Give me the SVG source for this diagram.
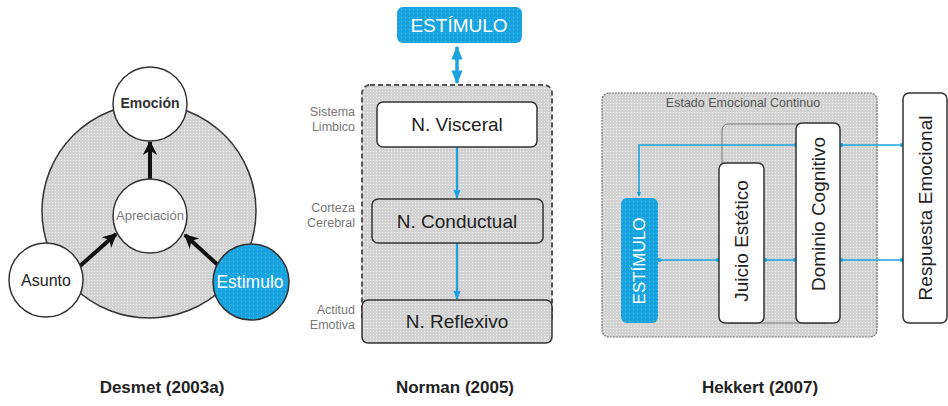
<svg xmlns="http://www.w3.org/2000/svg" width="948" height="406" viewBox="0 0 948 406">
  <defs>
    <pattern id="dots" width="3" height="3" patternUnits="userSpaceOnUse">
      <rect width="3" height="3" fill="#d2d2d2"/>
      <rect x="1" y="1" width="1" height="1" fill="#efefef"/>
    </pattern>
    <pattern id="bluedots" width="4" height="4" patternUnits="userSpaceOnUse">
      <rect width="4" height="4" fill="#17a3e0"/>
      <rect x="1" y="1" width="1" height="1" fill="#4dbdec"/>
    </pattern>
    <marker id="blk" viewBox="0 0 10 10" refX="9" refY="5" markerWidth="3.6" markerHeight="4" orient="auto" markerUnits="strokeWidth">
      <path d="M0,0 L10,5 L0,10 L3,5 z" fill="#111"/>
    </marker>
    <marker id="blu" viewBox="0 0 10 10" refX="9" refY="5" markerWidth="4" markerHeight="4" orient="auto-start-reverse" markerUnits="strokeWidth">
      <path d="M0,1 L10,5 L0,9 z" fill="#1aa3e0"/>
    </marker>
    <marker id="bluS" viewBox="0 0 10 10" refX="9" refY="5" markerWidth="3" markerHeight="3" orient="auto" markerUnits="strokeWidth">
      <path d="M0,0 L10,5 L0,10 z" fill="#1aa3e0"/>
    </marker>
    <marker id="sq" viewBox="0 0 10 10" refX="5" refY="5" markerWidth="3" markerHeight="3" orient="auto" markerUnits="strokeWidth">
      <rect x="1" y="1" width="8" height="8" fill="#1aa3e0"/>
    </marker>
  </defs>
  <style>
    text { font-family: "Liberation Sans", Arial, sans-serif; }
    .node { fill: #fff; stroke: #333; stroke-width: 1.5; }
    .gnode { fill: url(#dots); stroke: #333; stroke-width: 1.5; }
    .side { font-size: 12.5px; fill: #777; text-anchor: end; }
    .lbl { font-size: 19px; fill: #222; text-anchor: middle; }
    .vlbl { font-size: 19px; fill: #222; text-anchor: middle; }
    .wlbl { font-size: 17px; fill: #fff; text-anchor: middle; }
    .cap { font-size: 17px; font-weight: bold; fill: #222; text-anchor: middle; }
    .blk { stroke: #111; stroke-width: 4; fill: none; marker-end: url(#blk); }
    .bl { stroke: #1aa3e0; stroke-width: 2.2; fill: none; }
    .bl2 { stroke: #1aa3e0; stroke-width: 1.5; fill: none; }
  </style>

  <!-- Desmet model -->
  <g id="desmet-ring">
    <circle cx="149" cy="211" r="107" fill="url(#dots)" stroke="#333" stroke-width="1.5"/>
  </g>
  <g id="connectors-desmet">
    <line class="blk" x1="150" y1="180" x2="150" y2="142"/>
    <line class="blk" x1="80" y1="266" x2="116" y2="234"/>
    <line class="blk" x1="219" y1="266" x2="185" y2="235"/>
  </g>
  <g id="emocion">
    <circle class="node" cx="150" cy="104" r="37"/>
    <text x="150" y="108" font-size="14" font-weight="bold" fill="#333" text-anchor="middle">Emoción</text>
  </g>
  <g id="apreciacion">
    <circle class="node" cx="150" cy="216" r="37"/>
    <text x="150" y="220" font-size="13" fill="#777" text-anchor="middle">Apreciación</text>
  </g>
  <g id="asunto">
    <circle class="node" cx="46" cy="280" r="37"/>
    <text x="46" y="286" font-size="16" fill="#222" text-anchor="middle">Asunto</text>
  </g>
  <g id="estimulo-desmet">
    <circle cx="251" cy="282" r="38" fill="url(#bluedots)" stroke="#333" stroke-width="1.5"/>
    <text x="250" y="288" font-size="17.5" fill="#fff" text-anchor="middle">Estimulo</text>
  </g>

  <!-- Norman model -->
  <g id="norman-frame">
    <rect x="362" y="85" width="190" height="240" rx="8" fill="url(#dots)" stroke="#555" stroke-width="2" stroke-dasharray="5 3"/>
  </g>
  <g id="connectors-norman">
    <line class="bl" x1="457" y1="47" x2="457" y2="83" marker-start="url(#blu)" marker-end="url(#blu)" style="stroke-width:3.5"/>
    <line class="bl" x1="457" y1="147" x2="457" y2="198" marker-end="url(#blu)"/>
    <line class="bl" x1="457" y1="243" x2="457" y2="299" marker-end="url(#blu)"/>
  </g>
  <g id="estimulo-norman">
    <rect x="397" y="7" width="125" height="36" rx="6" fill="url(#bluedots)"/>
    <text x="459" y="32" font-size="19" fill="#fff" text-anchor="middle">ESTÍMULO</text>
  </g>
  <g id="visceral">
    <rect class="node" x="377" y="102" width="160" height="45" rx="6"/>
    <text class="lbl" x="457" y="131">N. Visceral</text>
    <text class="side" x="355" y="116">Sistema</text>
    <text class="side" x="355" y="131">Limbico</text>
  </g>
  <g id="conductual">
    <rect class="gnode" x="372" y="199" width="171" height="44" rx="6"/>
    <text class="lbl" x="457" y="228">N. Conductual</text>
    <text class="side" x="355" y="212">Corteza</text>
    <text class="side" x="355" y="227">Cerebral</text>
  </g>
  <g id="reflexivo">
    <rect class="gnode" x="362" y="300" width="190" height="43" rx="6"/>
    <text class="lbl" x="457" y="328">N. Reflexivo</text>
    <text class="side" x="355" y="314">Actitud</text>
    <text class="side" x="355" y="329">Emotiva</text>
  </g>

  <!-- Hekkert model -->
  <g id="hekkert-frame">
    <rect x="602" y="93" width="275" height="244" rx="7" fill="url(#dots)" stroke="#777" stroke-width="1.2" stroke-dasharray="2 1"/>
    <text x="743" y="107" font-size="12.5" fill="#555" text-anchor="middle">Estado Emocional Continuo</text>
    <rect x="722" y="124" width="110" height="199" rx="6" fill="none" stroke="#777" stroke-width="1"/>
  </g>
  <g id="connectors-hekkert">
    <path class="bl2" d="M796,145 H639 V196" marker-start="url(#sq)" marker-end="url(#bluS)"/>
    <line class="bl2" x1="841" y1="145" x2="902" y2="145" marker-start="url(#sq)" marker-end="url(#sq)"/>
    <line class="bl2" x1="659" y1="260" x2="718" y2="260" marker-start="url(#sq)" marker-end="url(#sq)"/>
    <line class="bl2" x1="765" y1="260" x2="795" y2="260" marker-start="url(#sq)" marker-end="url(#sq)"/>
    <line class="bl2" x1="841" y1="260" x2="902" y2="260" marker-start="url(#sq)" marker-end="url(#sq)"/>
  </g>
  <g id="estimulo-hekkert">
    <rect x="621" y="198" width="37" height="125" rx="6" fill="url(#bluedots)"/>
    <text class="wlbl" transform="translate(645,261) rotate(-90)">ESTÍMULO</text>
  </g>
  <g id="juicio">
    <rect class="node" x="719" y="163" width="45" height="160" rx="6"/>
    <text class="vlbl" transform="translate(748,241) rotate(-90)">Juicio Estético</text>
  </g>
  <g id="dominio">
    <rect class="node" x="796" y="123" width="44" height="200" rx="6"/>
    <text class="vlbl" transform="translate(825,214) rotate(-90)">Dominio Cognitivo</text>
  </g>
  <g id="respuesta">
    <rect class="node" x="903" y="93" width="44" height="230" rx="6"/>
    <text class="vlbl" transform="translate(932,208) rotate(-90)">Respuesta Emocional</text>
  </g>

  <!-- captions -->
  <text class="cap" x="162" y="393">Desmet (2003a)</text>
  <text class="cap" x="455" y="393">Norman (2005)</text>
  <text class="cap" x="760" y="393">Hekkert (2007)</text>
</svg>
